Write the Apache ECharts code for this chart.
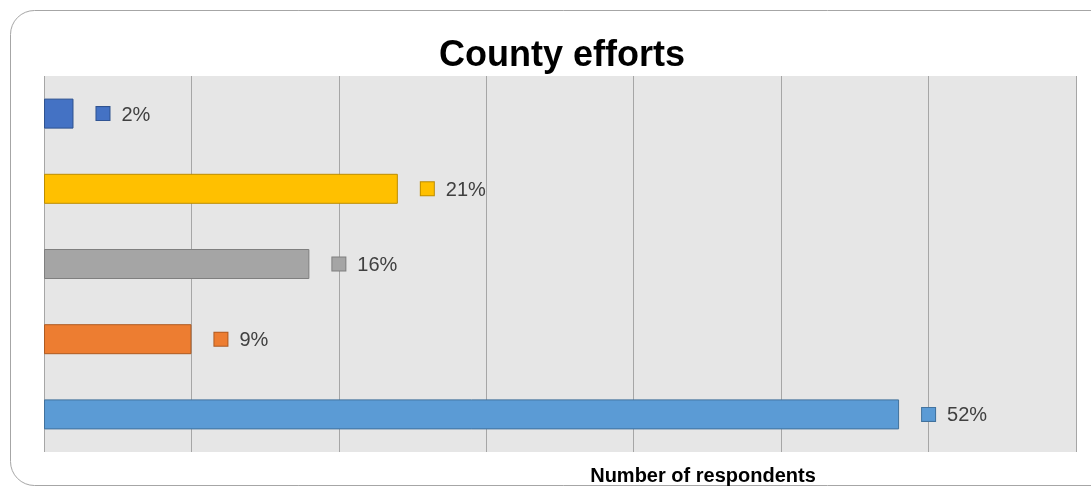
<!DOCTYPE html>
<html>
<head>
<meta charset="utf-8">
<script src="https://cdn.jsdelivr.net/npm/echarts@6/dist/echarts.min.js"></script>
<style>
html,body{margin:0;padding:0;background:#fff;}
#chart{width:1091px;height:487px;}
</style>
</head>
<body>
<div id="chart"></div>
<script>
// Data
var categories = ["Response A", "Response B", "Response C", "Response D", "Response E"];
var respondents = [2, 24, 18, 10, 58];
var percentLabels = ["2%", "21%", "16%", "9%", "52%"];
var barColors = ["#4472C4", "#FFC000", "#A5A5A5", "#ED7D31", "#5B9BD5"];
var barBorders = ["#2F528F", "#BC8C00", "#7F7F7F", "#AE5A21", "#41719C"];
var xTicks = [0, 10, 20, 30, 40, 50, 60, 70];

var chart = echarts.init(document.getElementById('chart'));

var seriesData = respondents.map(function (v, i) {
  var key = 'sq' + i;
  var rich = {};
  rich[key] = {
    width: 13, height: 13,
    backgroundColor: barColors[i],
    borderColor: barBorders[i],
    borderWidth: 1
  };
  rich.t = {
    fontSize: 20,
    color: '#404040',
    fontFamily: 'Liberation Sans, Arial, sans-serif',
    padding: [3, 0, 0, 12]
  };
  return {
    value: v,
    itemStyle: { color: barColors[i], borderColor: barBorders[i], borderWidth: 1 },
    label: {
      show: true,
      position: 'right',
      distance: 23,
      formatter: '{' + key + '|}{t|' + percentLabels[i] + '}',
      rich: rich
    }
  };
});

var option = {
  animation: false,
  backgroundColor: '#ffffff',
  graphic: [{
    type: 'rect',
    shape: { x: 10.5, y: 10.5, width: 1120, height: 475, r: 24 },
    style: { fill: 'none', stroke: '#a6a6a6', lineWidth: 1 },
    z: -10
  }],
  title: [{
    text: 'County efforts',
    left: 557,
    top: 33,
    textAlign: 'center',
    textStyle: {
      fontSize: 36,
      fontWeight: 'bold',
      color: '#000',
      fontFamily: 'Liberation Sans, Arial, sans-serif'
    }
  }, {
    text: 'Number of respondents',
    left: 698,
    top: 461,
    textAlign: 'center',
    textStyle: {
      fontSize: 20,
      fontWeight: 'bold',
      color: '#000',
      fontFamily: 'Liberation Sans, Arial, sans-serif'
    }
  }],
  grid: {
    left: 44, right: 15, top: 76, bottom: 35,
    show: true,
    backgroundColor: '#e6e6e6',
    borderWidth: 0
  },
  xAxis: {
    type: 'value',
    min: xTicks[0],
    max: xTicks[xTicks.length - 1],
    interval: xTicks[1] - xTicks[0],
    axisLine: { show: false },
    axisTick: { show: false },
    axisLabel: { show: false },
    splitLine: { show: true, lineStyle: { color: '#a6a6a6', width: 1 } }
  },
  yAxis: {
    type: 'category',
    data: categories,
    inverse: true,
    axisLine: { show: false },
    axisTick: { show: false },
    axisLabel: { show: false },
    splitLine: { show: false }
  },
  series: [{
    type: 'bar',
    data: seriesData,
    barWidth: 30
  }]
};
chart.setOption(option);
</script>
</body>
</html>
